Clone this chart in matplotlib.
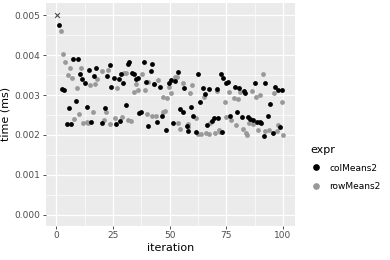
import numpy as np
import matplotlib
matplotlib.use("Agg")
import matplotlib.pyplot as plt
from matplotlib.lines import Line2D
from matplotlib.ticker import MultipleLocator, FormatStrFormatter

# colMeans2 (iteration, time in 1e-3 ms)
col_iter = [1.3, 2.5, 3.4, 4.6, 5.6, 6.5, 7.4, 8.7, 9.4, 10.4, 11.5, 12.6, 13.4,
            14.5, 15.3, 16.8, 17.5, 20.4, 21.5, 22.5, 23.5, 24.0, 25.4, 26.4, 27.6,
            28.2, 28.6, 29.4, 30.6, 31.6, 32.3, 33.5, 34.2, 35.2, 36.0, 36.4, 37.2,
            38.5, 39.4, 40.4, 41.6, 42.3, 43.3, 44.5, 45.8, 46.6, 48.5, 49.5, 50.5,
            51.3, 52.4, 53.5, 54.5, 55.7, 56.4, 57.6, 58.3, 59.3, 60.5, 61.5, 62.6,
            63.4, 64.5, 65.6, 66.3, 67.4, 68.5, 69.6, 70.8, 71.5, 72.6, 73.3, 73.6,
            74.8, 75.6, 76.8, 78.7, 79.5, 80.5, 81.7, 82.7, 83.4, 84.4, 85.6, 86.7,
            87.5, 88.5, 89.7, 90.5, 91.5, 92.2, 93.4, 94.4, 95.6, 96.3, 97.7, 98.5,
            99.6]
col_time = [4.75, 3.15, 3.13, 2.27, 2.68, 2.27, 3.90, 2.86, 3.91, 3.52, 3.41, 3.31, 2.71,
            3.63, 2.32, 3.48, 3.68, 2.29, 2.68, 3.48, 3.76, 3.21, 3.43, 2.28, 3.40,
            2.35, 3.52, 3.29, 2.75, 3.77, 3.82, 3.56, 3.52, 3.39, 3.43, 2.54, 2.58,
            3.83, 3.33, 2.23, 3.61, 3.78, 3.27, 2.32, 3.19, 2.48, 2.13, 3.29, 3.38,
            2.29, 3.35, 3.57, 2.65, 2.57, 3.17, 2.23, 2.10, 2.71, 2.48, 2.08, 3.52,
            2.82, 3.18, 3.03, 2.25, 3.15, 2.34, 2.43, 3.14, 2.43, 3.52, 2.08, 3.43,
            3.31, 3.32, 2.48, 3.19, 2.57, 3.18, 2.46, 3.10, 3.04, 2.46, 2.39, 2.38,
            3.29, 2.33, 2.32, 2.29, 1.98, 3.29, 2.48, 2.77, 2.06, 3.21, 3.13, 2.19,
            3.13]

# rowMeans2 (iteration, time in 1e-3 ms)
row_iter = [1.9, 2.8, 3.8, 5.0, 6.0, 7.0, 7.8, 9.0, 10.0, 10.9, 11.9, 13.4, 14.1,
            14.8, 16.0, 17.0, 17.8, 20.0, 21.0, 21.9, 22.9, 23.7, 26.0, 26.9, 29.0,
            29.8, 30.6, 31.6, 32.8, 34.1, 35.0, 36.0, 37.9, 39.2, 40.1, 40.4, 42.2,
            43.0, 44.0, 44.8, 46.9, 47.0, 47.8, 48.9, 49.6, 50.5, 52.4, 53.2, 53.9,
            54.6, 56.0, 57.9, 58.1, 59.0, 60.0, 61.5, 62.7, 63.7, 65.0, 66.0, 67.2,
            67.8, 70.0, 70.8, 71.8, 72.2, 74.3, 74.8, 76.1, 77.1, 78.3, 79.3, 80.2,
            81.2, 82.2, 83.7, 84.1, 85.2, 86.1, 86.8, 88.1, 89.0, 90.0, 91.0, 92.0,
            94.0, 95.9, 97.4, 97.8, 99.6, 100.0]
row_time = [4.60, 4.03, 3.83, 3.50, 3.68, 3.42, 2.40, 3.18, 2.52, 3.67, 2.31, 2.33, 2.29,
            3.25, 2.57, 3.27, 3.40, 3.60, 2.38, 2.58, 3.63, 2.28, 2.43, 3.18, 2.44,
            3.54, 3.56, 2.38, 2.35, 3.07, 3.27, 3.13, 3.52, 3.13, 2.52, 3.33, 2.48,
            3.27, 2.48, 3.38, 2.58, 2.96, 2.61, 2.92, 3.19, 3.06, 3.46, 3.44, 2.29,
            2.15, 3.29, 2.27, 2.21, 3.04, 3.25, 2.43, 2.02, 2.02, 2.94, 2.04, 2.03,
            2.31, 2.04, 3.11, 2.13, 2.08, 2.83, 2.46, 3.08, 2.38, 2.92, 2.25, 2.90,
            3.08, 2.14, 2.04, 2.00, 2.29, 3.11, 2.27, 2.94, 2.13, 3.00, 3.52, 2.10,
            2.13, 3.06, 2.10, 2.25, 2.82, 2.00]

# the single outlier drawn as a cross
outlier_iter = [0.5]
outlier_time = [5.01]

col_time = np.array(col_time) * 1e-3
row_time = np.array(row_time) * 1e-3
outlier_time = np.array(outlier_time) * 1e-3

fig = plt.figure(figsize=(3.9, 2.6), dpi=100)
ax = fig.add_axes([0.118, 0.132, 0.638, 0.856])
ax.set_facecolor("#EBEBEB")

ax.scatter(row_iter, row_time, s=12, color="#999999", linewidths=0, zorder=3)
ax.scatter(col_iter, col_time, s=12, color="black", linewidths=0, zorder=3)
ax.scatter(outlier_iter, outlier_time, s=12, marker="x", color="#4D4D4D",
           linewidths=0.8, zorder=3)

ax.set_xlim(-4.5, 105.2)
ax.set_ylim(-0.00027, 0.00530)
ax.xaxis.set_major_locator(MultipleLocator(25))
ax.xaxis.set_minor_locator(MultipleLocator(12.5))
ax.yaxis.set_major_locator(MultipleLocator(0.001))
ax.yaxis.set_minor_locator(MultipleLocator(0.0005))
ax.yaxis.set_major_formatter(FormatStrFormatter("%.3f"))

ax.grid(which="major", color="white", linewidth=0.9, zorder=0)
ax.grid(which="minor", color="white", linewidth=0.45, zorder=0)
ax.set_axisbelow(True)
for sp in ax.spines.values():
    sp.set_visible(False)

ax.tick_params(which="major", length=2.5, width=0.6, color="#333333",
               labelsize=6.5, labelcolor="#4D4D4D", pad=1.5)
ax.tick_params(which="minor", length=0)

ax.set_xlabel("iteration", fontsize=8, labelpad=2)
ax.set_ylabel("time (ms)", fontsize=8, labelpad=3)

handles = [
    Line2D([], [], marker="o", linestyle="", markersize=3.8, color="black"),
    Line2D([], [], marker="o", linestyle="", markersize=3.8, color="#999999"),
]
leg = fig.legend(handles, ["colMeans2", "rowMeans2"], title="expr",
                 loc="upper left", bbox_to_anchor=(0.775, 0.475), frameon=False,
                 fontsize=6.5, title_fontsize=8, handletextpad=0.9,
                 handlelength=1.2, labelspacing=1.0)
leg._legend_box.align = "left"

fig.savefig("out.png", dpi=100)
